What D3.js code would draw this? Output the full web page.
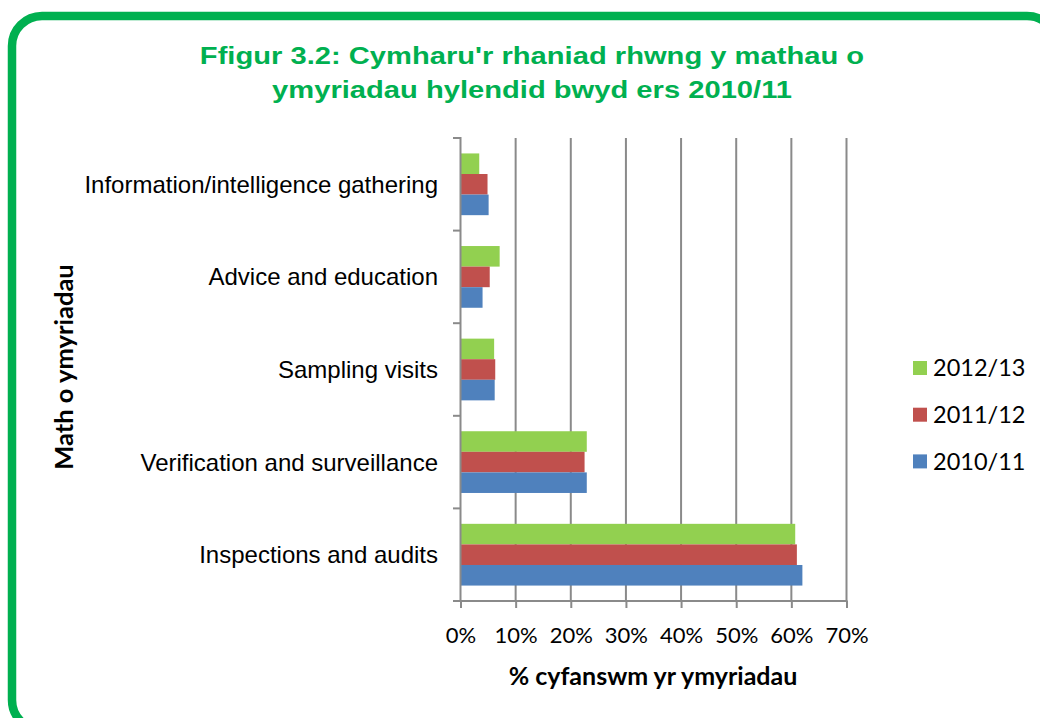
<!DOCTYPE html>
<html>
<head>
    <meta charset="UTF-8">
    <title>Ffigur 3.2</title>
    <style>
        body { margin: 0; background: #fff; }
    </style>
</head>
<body>
    <div id="chart"></div>

    <script src="https://d3js.org/d3.v7.min.js"></script>
    <script>
        // data
        var categories = [
            "Information/intelligence gathering",
            "Advice and education",
            "Sampling visits",
            "Verification and surveillance",
            "Inspections and audits"
        ];
        var seriesNames = ["2012/13", "2011/12", "2010/11"];
        var values2012 = [0.034, 0.071, 0.061, 0.229, 0.607];
        var values2011 = [0.049, 0.053, 0.063, 0.225, 0.610];
        var values2010 = [0.051, 0.040, 0.062, 0.229, 0.620];
        var tickValues = [0, 0.1, 0.2, 0.3, 0.4, 0.5, 0.6, 0.7];

        var seriesValues = [values2012, values2011, values2010];
        var colors = ["#92D050", "#C0504D", "#4F81BD"];

        var width = 1040;
        var height = 718;

        var svg = d3.select("#chart")
            .append("svg")
            .attr("width", width)
            .attr("height", height);

        // green frame
        svg.append("rect")
            .attr("x", 12)
            .attr("y", 16)
            .attr("width", 1045)
            .attr("height", 714)
            .attr("rx", 30)
            .attr("ry", 30)
            .style("fill", "none")
            .style("stroke", "#00B050")
            .style("stroke-width", 8.5);

        // title (stretched sideways like the original text box)
        var title = svg.append("text")
            .attr("transform", "translate(532,0) scale(1.24,1)")
            .attr("text-anchor", "middle")
            .style("font-family", "'Liberation Sans', Arial, sans-serif")
            .style("font-weight", "bold")
            .style("font-size", "23.5px")
            .style("fill", "#00B050");
        title.append("tspan").attr("x", 0).attr("y", 64)
            .text("Ffigur 3.2: Cymharu'r rhaniad rhwng y mathau o");
        title.append("tspan").attr("x", 0).attr("y", 98)
            .text("ymyriadau hylendid bwyd ers 2010/11");

        var x = d3.scaleLinear()
            .domain([0, 0.7])
            .range([460.5, 846.5]);

        var y = d3.scaleBand()
            .domain(categories)
            .range([138, 601])
            .padding(0);

        var yInner = d3.scaleBand()
            .domain(seriesNames)
            .range([y.bandwidth() / 6, y.bandwidth() * 5 / 6]);

        // gridlines
        svg.append("g")
            .selectAll("line")
            .data(tickValues.slice(1))
            .enter()
            .append("line")
            .attr("x1", function (d) { return x(d); })
            .attr("x2", function (d) { return x(d); })
            .attr("y1", 138)
            .attr("y2", 601)
            .style("stroke", "#8a8a8a")
            .style("stroke-width", 2);

        // bars
        var groups = svg.append("g")
            .selectAll("g")
            .data(categories)
            .enter()
            .append("g")
            .attr("transform", function (d) { return "translate(0," + y(d) + ")"; });

        groups.selectAll("rect")
            .data(function (d, i) {
                return seriesNames.map(function (s, j) {
                    return { series: s, value: seriesValues[j][i], color: colors[j] };
                });
            })
            .enter()
            .append("rect")
            .attr("x", x(0))
            .attr("y", function (d) { return yInner(d.series); })
            .attr("width", function (d) { return x(d.value) - x(0); })
            .attr("height", yInner.bandwidth())
            .style("fill", function (d) { return d.color; });

        // x axis
        var xAxis = svg.append("g")
            .attr("transform", "translate(0,601)")
            .call(d3.axisBottom(x).tickValues(tickValues).tickSize(7).tickPadding(19)
                .tickFormat(d3.format(".0%")));
        xAxis.select(".domain").remove();
        xAxis.selectAll(".tick line").style("stroke", "#8a8a8a").style("stroke-width", 2);
        xAxis.selectAll("text")
            .style("font-family", "Lato, 'Open Sans', sans-serif")
            .style("font-size", "22px")
            .style("fill", "#000");
        svg.append("line")
            .attr("x1", 453).attr("x2", 847.5)
            .attr("y1", 601).attr("y2", 601)
            .style("stroke", "#8a8a8a").style("stroke-width", 2);

        // y axis
        svg.append("line")
            .attr("x1", 460.5).attr("x2", 460.5)
            .attr("y1", 137).attr("y2", 602)
            .style("stroke", "#8a8a8a").style("stroke-width", 2);
        svg.append("g")
            .selectAll("line")
            .data(categories)
            .enter()
            .append("line")
            .attr("x1", 453).attr("x2", 460)
            .attr("y1", function (d) { return y(d); })
            .attr("y2", function (d) { return y(d); })
            .style("stroke", "#8a8a8a").style("stroke-width", 2);

        svg.append("g")
            .selectAll("text")
            .data(categories)
            .enter()
            .append("text")
            .attr("x", 438)
            .attr("y", function (d) { return y(d) + y.bandwidth() / 2; })
            .attr("dy", "0.35em")
            .attr("text-anchor", "end")
            .style("font-family", "'Liberation Sans', Arial, sans-serif")
            .style("font-size", "24px")
            .style("fill", "#000")
            .text(function (d) { return d; });

        // axis titles
        svg.append("text")
            .attr("x", 653)
            .attr("y", 685)
            .attr("text-anchor", "middle")
            .style("font-family", "Lato, 'Open Sans', sans-serif")
            .style("font-weight", "bold")
            .style("font-size", "25px")
            .text("% cyfanswm yr ymyriadau");

        svg.append("text")
            .attr("transform", "translate(73,367) rotate(-90)")
            .attr("text-anchor", "middle")
            .style("font-family", "Lato, 'Open Sans', sans-serif")
            .style("font-weight", "bold")
            .style("font-size", "25.5px")
            .text("Math o ymyriadau");

        // legend
        var legend = svg.append("g")
            .selectAll("g")
            .data(seriesNames)
            .enter()
            .append("g")
            .attr("transform", function (d, i) { return "translate(913," + (361 + i * 46.7) + ")"; });
        legend.append("rect")
            .attr("width", 14)
            .attr("height", 14)
            .style("fill", function (d, i) { return colors[i]; });
        legend.append("text")
            .attr("x", 20)
            .attr("y", 7)
            .attr("dy", "0.35em")
            .style("font-family", "Lato, 'Open Sans', sans-serif")
            .style("font-size", "23.5px")
            .text(function (d) { return d; });
    </script>
</body>
</html>
